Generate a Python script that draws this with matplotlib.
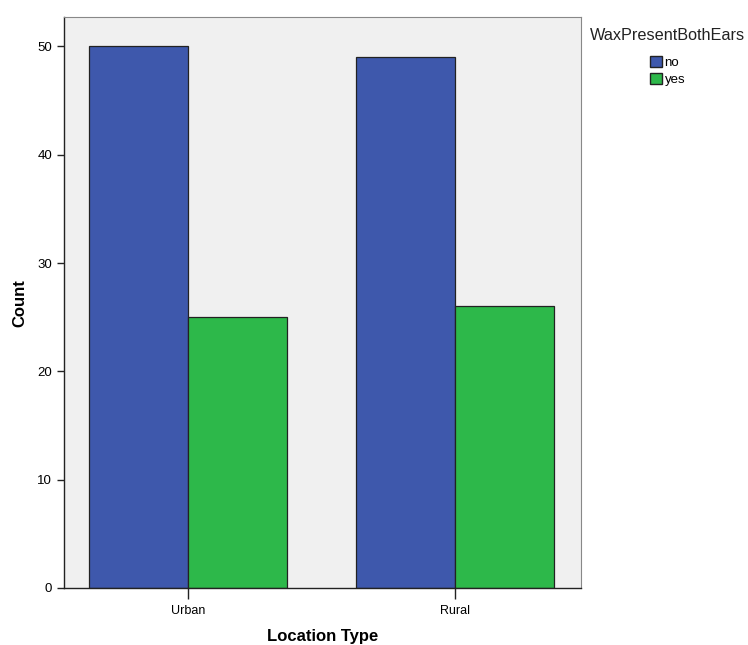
import numpy as np
import matplotlib
matplotlib.use("Agg")
import matplotlib.pyplot as plt
from matplotlib.patches import Patch

plt.rcParams['font.family'] = ['Liberation Sans', 'DejaVu Sans']

categories = ["Urban", "Rural"]
no_counts = [50, 49]
yes_counts = [25, 26]
series_names = ["no", "yes"]
colors = ["#3e58ac", "#2db84a"]

fig = plt.figure(figsize=(7.48, 6.45), dpi=100)
ax = fig.add_axes([0.0856, 0.0884, 0.691, 0.885])
ax.set_facecolor("#f0f0f0")

x = np.arange(len(categories))
w = 0.37
ax.bar(x - w / 2, no_counts, w, color=colors[0], edgecolor="#222222", linewidth=0.9)
ax.bar(x + w / 2, yes_counts, w, color=colors[1], edgecolor="#222222", linewidth=0.9)

ax.set_xlim(-0.464, 1.472)
ax.set_ylim(0, 52.7)
ax.set_xticks(x)
ax.set_xticklabels(categories, fontsize=9)
ax.set_yticks([0, 10, 20, 30, 40, 50])
ax.tick_params(axis='y', labelsize=9.5, length=5, width=1, color="#222222")
ax.tick_params(axis='x', length=8, width=1, color="#222222", pad=4)

for s in ["top", "right"]:
    ax.spines[s].set_color("#888888")
    ax.spines[s].set_linewidth(0.8)
for s in ["left", "bottom"]:
    ax.spines[s].set_color("#222222")
    ax.spines[s].set_linewidth(1.0)

ax.set_ylabel("Count", fontsize=12, fontweight="bold", labelpad=7)
ax.set_xlabel("Location Type", fontsize=12, fontweight="bold", labelpad=9)

# legend: title as text, entries below
fig.text(590 / 748, 1 - 36 / 645, "WaxPresentBothEars", fontsize=11.7,
         ha="left", va="center", color="#222222")
handles = [Patch(facecolor=c, edgecolor="#222222", label=n) for c, n in zip(colors, series_names)]
fig.legend(handles=handles, loc="upper left",
           bbox_to_anchor=(650 / 748, 1 - 56 / 645), frameon=False, fontsize=9.5,
           handlelength=0.9, handleheight=0.9, borderpad=0,
           handletextpad=0.2, labelspacing=0.3, borderaxespad=0)

fig.savefig("out.png", dpi=100)
